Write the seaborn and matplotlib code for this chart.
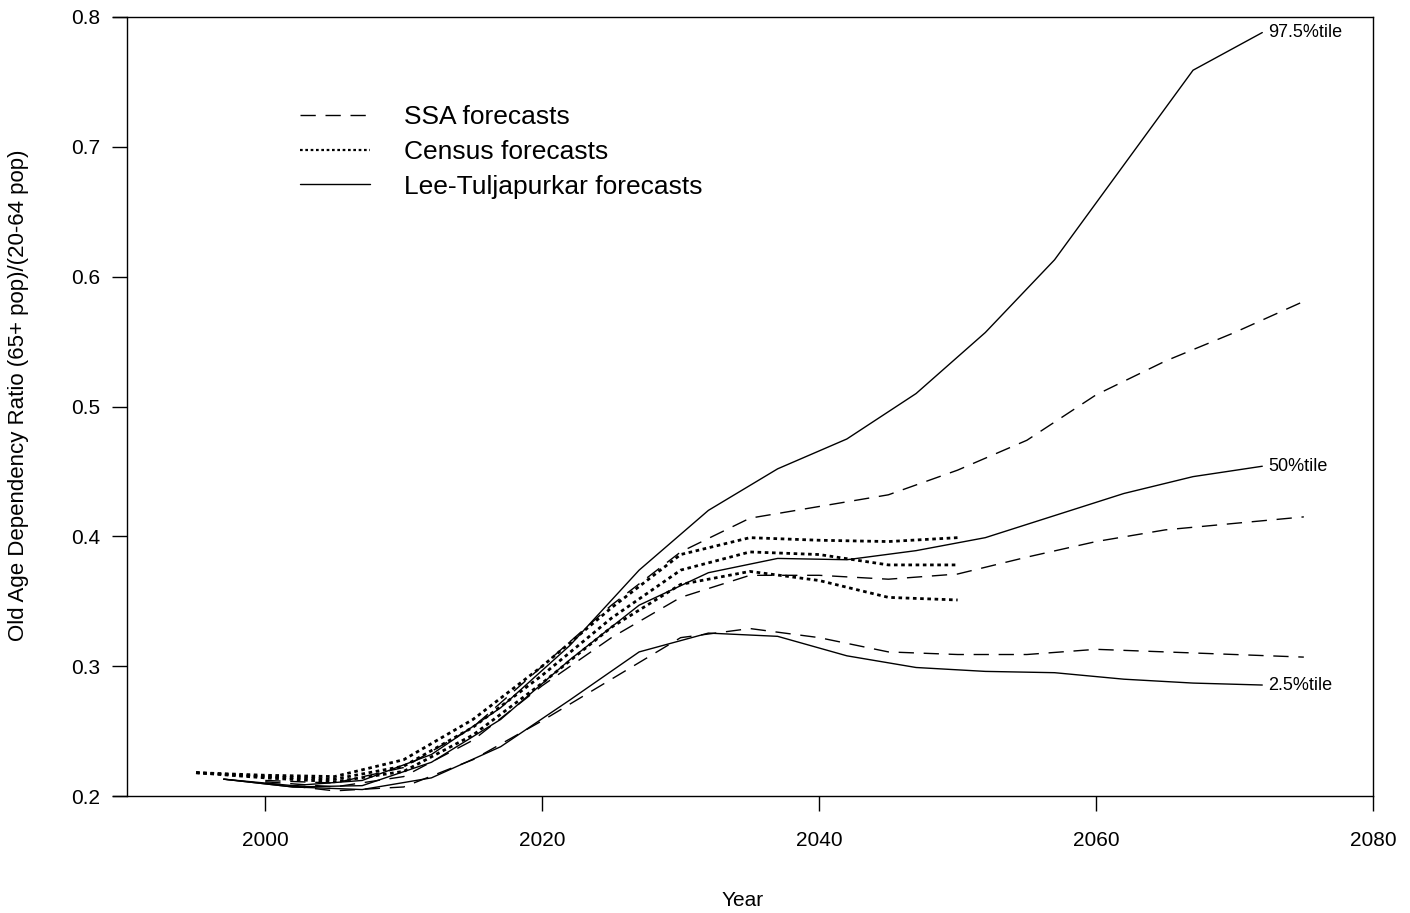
import numpy as np
import pandas as pd
import matplotlib
matplotlib.use("Agg")
import matplotlib.pyplot as plt
from matplotlib.lines import Line2D
import seaborn as sns

# Lee-Tuljapurkar stochastic forecasts: 2.5, 50 and 97.5 percentiles
lt_years = [1997, 2002, 2007, 2012, 2017, 2022, 2027, 2032, 2037, 2042,
            2047, 2052, 2057, 2062, 2067, 2072]
lt_p975 = [0.213, 0.208, 0.212, 0.232, 0.268, 0.316, 0.374, 0.420, 0.452, 0.475,
           0.510, 0.557, 0.613, 0.686, 0.759, 0.788]
lt_p50 = [0.213, 0.207, 0.208, 0.226, 0.259, 0.305, 0.347, 0.372, 0.383, 0.382,
          0.389, 0.399, 0.416, 0.433, 0.446, 0.454]
lt_p025 = [0.213, 0.207, 0.205, 0.214, 0.238, 0.274, 0.311, 0.3255, 0.323, 0.308,
           0.299, 0.296, 0.295, 0.290, 0.287, 0.2855]

# SSA forecasts: high-cost, intermediate and low-cost
ssa_years = [2000, 2005, 2010, 2015, 2020, 2025, 2030, 2035, 2040, 2045,
             2050, 2055, 2060, 2065, 2070, 2075]
ssa_high = [0.212, 0.210, 0.222, 0.253, 0.300, 0.347, 0.388, 0.414, 0.423, 0.432,
            0.451, 0.474, 0.509, 0.535, 0.557, 0.581]
ssa_mid = [0.211, 0.207, 0.215, 0.243, 0.285, 0.322, 0.353, 0.370, 0.370, 0.367,
           0.371, 0.384, 0.396, 0.405, 0.410, 0.415]
ssa_low = [0.210, 0.204, 0.207, 0.228, 0.258, 0.290, 0.322, 0.329, 0.322, 0.311,
           0.309, 0.309, 0.313, 0.311, 0.309, 0.307]

# Census forecasts: high, middle and low series
census_years = [1995, 2000, 2005, 2010, 2015, 2020, 2025, 2030, 2035, 2040, 2045, 2050]
census_high = [0.218, 0.216, 0.215, 0.228, 0.259, 0.300, 0.345, 0.386, 0.399, 0.397,
               0.396, 0.399]
census_mid = [0.218, 0.215, 0.213, 0.223, 0.253, 0.293, 0.337, 0.374, 0.388, 0.386,
              0.378, 0.378]
census_low = [0.218, 0.214, 0.211, 0.219, 0.247, 0.287, 0.330, 0.363, 0.373, 0.366,
              0.353, 0.351]

x_ticks = [2000, 2020, 2040, 2060, 2080]
y_ticks = [0.2, 0.3, 0.4, 0.5, 0.6, 0.7, 0.8]
y_tick_labels = ["0.2", "0.3", "0.4", "0.5", "0.6", "0.7", "0.8"]
pct_labels = ["97.5%tile", "50%tile", "2.5%tile"]
legend_labels = ["SSA forecasts", "Census forecasts", "Lee-Tuljapurkar forecasts"]

sns.set_theme(style="ticks")
plt.rcParams["font.family"] = ["Liberation Sans", "DejaVu Sans"]
plt.rcParams["text.color"] = "black"

fig = plt.figure(figsize=(14.10, 9.13), dpi=100)
ax = fig.add_axes([0.0801, 0.1281, 0.8937, 0.8533])

dash = (0, (11, 7))
dot = (0, (1.3, 1.3))

for vals in (ssa_high, ssa_mid, ssa_low):
    sns.lineplot(x=ssa_years, y=vals, ax=ax, color="black", lw=1.0)
    ax.lines[-1].set_linestyle(dash)

for vals in (census_high, census_mid, census_low):
    sns.lineplot(x=census_years, y=vals, ax=ax, color="black", lw=2.0)
    ax.lines[-1].set_linestyle(dot)

for vals in (lt_p975, lt_p50, lt_p025):
    sns.lineplot(x=lt_years, y=vals, ax=ax, color="black", lw=1.0)

# percentile labels at the end of each Lee-Tuljapurkar line
for vals, lab in zip((lt_p975, lt_p50, lt_p025), pct_labels):
    ax.annotate(lab, xy=(lt_years[-1], vals[-1]), xytext=(4, 0),
                textcoords="offset points", va="center", ha="left",
                fontsize=13, color="black")

ax.set_xlim(1989, 2080)
ax.set_ylim(0.2, 0.8)
ax.set_xticks(x_ticks)
ax.set_xticklabels([str(t) for t in x_ticks])
ax.set_yticks(y_ticks)
ax.set_yticklabels(y_tick_labels)
ax.spines["left"].set_position(("data", 1990))
for s in ax.spines.values():
    s.set_color("black")
    s.set_linewidth(1.0)
ax.tick_params(axis="both", direction="out", length=11, width=1.0,
               colors="black", labelsize=15)
ax.tick_params(axis="x", pad=14)
ax.tick_params(axis="y", pad=8)

ax.set_xlabel("Year", fontsize=15, labelpad=30, color="black")
ax.set_ylabel("Old Age Dependency Ratio (65+ pop)/(20-64 pop)", fontsize=16,
              color="black")
ax.yaxis.set_label_coords(-0.067, 0.515)

handles = [
    Line2D([0], [0], color="black", lw=1.0, linestyle=dash),
    Line2D([0], [0], color="black", lw=1.6, linestyle=(0, (1.2, 1.2))),
    Line2D([0], [0], color="black", lw=1.0),
]
leg = ax.legend(handles, legend_labels, loc="upper left", bbox_to_anchor=(0.1484, 0.887),
                frameon=False, fontsize=19, handlelength=2.65, handletextpad=1.3,
                labelspacing=0.41, borderpad=0, borderaxespad=0)
for t in leg.get_texts():
    t.set_color("black")

fig.savefig("out.png", dpi=100)
